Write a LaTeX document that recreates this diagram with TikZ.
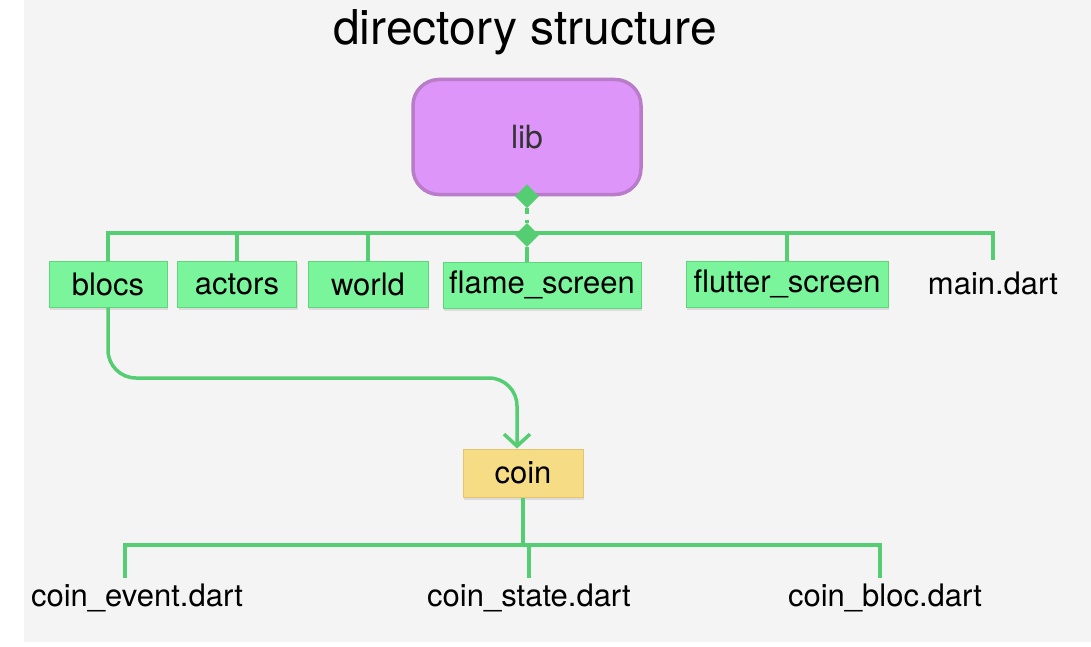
\documentclass[tikz,border=0pt]{standalone}
\usepackage{fontspec}
\setmainfont{TeX Gyre Heros}
\usetikzlibrary{positioning, arrows.meta, shapes.geometric, shadows}

\definecolor{paper}{HTML}{F4F4F4}
\definecolor{libfill}{HTML}{DE95F9}
\definecolor{libdraw}{HTML}{B87CC8}
\definecolor{dirfill}{HTML}{7AF59B}
\definecolor{dirdraw}{HTML}{5FD67C}
\definecolor{coinfill}{HTML}{F7DC86}
\definecolor{coindraw}{HTML}{E3C56F}
\definecolor{wirec}{HTML}{55CD72}

\tikzset{
  label font/.style={font=\fontsize{31}{34}\selectfont},
  dirbox/.style={draw=dirdraw, fill=dirfill, line width=1pt, minimum height=46,
    inner sep=0pt, label font,
    drop shadow={shadow xshift=1pt, shadow yshift=-3pt, opacity=.2}},
  coinbox/.style={dirbox, draw=coindraw, fill=coinfill},
  file/.style={minimum height=40, inner sep=0pt, label font},
  wire/.style={draw=wirec, line width=3.5pt},
  knot/.style={diamond, fill=wirec, inner sep=0pt, minimum size=24}
}

\begin{document}
\begin{tikzpicture}[x=1pt, y=-1pt]
\useasboundingbox (0,0) rectangle (1091,647);
\fill[white] (0,0) rectangle (1091,647);
\fill[paper] (24,0) rectangle (1091,642);

\node (title) at (525,32) {\fontsize{48}{52}\selectfont directory structure};

% root folder
\node[draw=libdraw, fill=libfill, line width=3.5pt, rounded corners=26,
      minimum width=228, minimum height=115, text=black!80,
      font=\fontsize{32}{35}\selectfont] (lib) at (527,137) {lib};

% first level
\node[dirbox, minimum width=118] (blocs) at (108,284) {blocs};
\node[dirbox, minimum width=119] (actors) at (237,284) {actors};
\node[dirbox, minimum width=120] (world) at (368,284) {world};
\node[dirbox, minimum width=198] (flame) at (542,285) {flame\_screen};
\node[dirbox, minimum width=202] (flutter) at (787,284) {flutter\_screen};
\node[file, minimum height=46] (main) at (993,283) {main.dart};

\node[knot] (d1) at (lib.south) {};
\node[knot] (d2) at (527,235) {};
\coordinate (bar) at (527,233);

\draw[wire, dash pattern=on 6pt off 6pt] (d1) -- (d2);
\draw[wire] (blocs.north) |- (bar) -| (main.north);
\draw[wire] (actors.north) -- (actors.north |- bar);
\draw[wire] (world.north) -- (world.north |- bar);
\draw[wire] (d2) -- (d2 |- flame.north);
\draw[wire] (flutter.north) -- (flutter.north |- bar);

% sub folder
\node[coinbox, minimum width=120, minimum height=48] (coin) at (523,473) {coin};
\coordinate (hop) at (517,378);
\draw[wire, rounded corners=28, -{Straight Barb[length=12pt, width=26pt, line width=3.5pt]}]
  (blocs.south) |- (hop) -- (hop |- coin.north);

% files
\node[file] (event) at (137,598) {coin\_event.dart};
\node[file] (state) at (529,598) {coin\_state.dart};
\node[file] (bloc) at (885,598) {coin\_bloc.dart};
\coordinate (split) at (coin.south |- 0,545);

\draw[wire] (coin.south) -- (split);
\draw[wire] ([xshift=-12]event.north) |- (split) -| ([xshift=-5]bloc.north);
\draw[wire] (state.north) -- (state.north |- split);
\end{tikzpicture}
\end{document}
